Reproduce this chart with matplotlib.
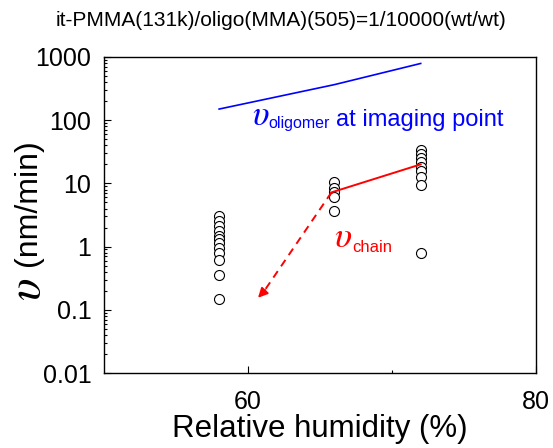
import matplotlib
matplotlib.use("Agg")
import matplotlib.pyplot as plt
from matplotlib.ticker import LogLocator, NullFormatter, FixedLocator

plt.rcParams["font.family"] = ["Liberation Sans", "DejaVu Sans"]

# measured points: relative humidity (%) vs velocity (nm/min)
rh_58 = [58] * 12
v_58 = [3.0, 2.5, 2.1, 1.75, 1.45, 1.3, 1.12, 0.96, 0.8, 0.62, 0.36, 0.15]
rh_66 = [66] * 5
v_66 = [10.7, 8.6, 7.2, 6.0, 3.6]
rh_72 = [72] * 9
v_72 = [34, 29.5, 25.5, 21.5, 18.5, 15.5, 12.4, 9.6, 0.8]

# oligomer velocity at imaging point
olig_rh = [58, 66, 72]
olig_v = [150, 365, 790]

# chain velocity (solid) and extrapolation (dashed arrow)
chain_rh = [65.8, 72]
chain_v = [7.2, 20]
extrap_rh = [65.8, 60.7]
extrap_v = [7.2, 0.155]

xticks = [60, 80]
yticks = [0.01, 0.1, 1, 10, 100, 1000]
ytick_labels = ["0.01", "0.1", "1", "10", "100", "1000"]

fig = plt.figure(figsize=(5.53, 4.48), dpi=100)
ax = fig.add_axes([0.188, 0.1674, 0.781, 0.7054])

marker_kw = dict(linestyle="none", marker="o", markersize=7.2,
                 markerfacecolor="white", markeredgecolor="black",
                 markeredgewidth=0.8)
for xs, ys in [(rh_58, v_58), (rh_66, v_66), (rh_72, v_72)]:
    ax.plot(xs, ys, **marker_kw)

ax.plot(olig_rh, olig_v, color="#0000ff", linewidth=1.2)
ax.plot(chain_rh, chain_v, color="#ff0000", linewidth=1.4)
ax.plot(extrap_rh[:1] + [extrap_rh[1] + 0.4], extrap_v[:1] + [extrap_v[1] * 1.25],
        color="#ff0000", linewidth=1.4, linestyle=(0, (4, 3)))
ax.annotate("", xy=(extrap_rh[1], extrap_v[1]),
            xytext=(extrap_rh[1] + 0.5, extrap_v[1] * 1.32),
            arrowprops=dict(arrowstyle="-|>", color="#ff0000", lw=1.4,
                            mutation_scale=14, shrinkA=0, shrinkB=0))

ax.set_yscale("log")
ax.set_xlim(50, 80)
ax.set_ylim(0.01, 1000)
ax.set_xticks(xticks)
ax.xaxis.set_minor_locator(FixedLocator([70]))
ax.set_yticks(yticks)
ax.set_yticklabels(ytick_labels)
ax.yaxis.set_minor_locator(LogLocator(base=10, subs=range(2, 10), numticks=20))
ax.yaxis.set_minor_formatter(NullFormatter())
ax.tick_params(which="both", direction="in", top=False, right=False,
               labelsize=18, width=0.8)
ax.tick_params(which="major", length=5)
ax.tick_params(axis="y", which="major", pad=9)
ax.tick_params(axis="x", which="major", pad=12)
ax.tick_params(which="minor", length=2.5)
for s in ax.spines.values():
    s.set_linewidth(1.0)

# curve labels
greek = dict(math_fontfamily="stix", va="baseline", ha="left")
ax.text(60.3, 85, r"$\upsilon$", color="#0000ff", fontsize=25, **greek)
ax.text(61.45, 75, "oligomer", color="#0000ff", fontsize=11.5, va="baseline", ha="left")
ax.text(66.1, 82, "at imaging point", color="#0000ff", fontsize=17, va="baseline", ha="left")
ax.text(66.0, 1.0, r"$\upsilon$", color="#ff0000", fontsize=26, **greek)
ax.text(67.25, 0.82, "chain", color="#ff0000", fontsize=12, va="baseline", ha="left")

ax.set_xlabel("Relative humidity (%)", fontsize=22.5, labelpad=0)

# y label built from a large upsilon plus the unit
fig.text(0.05, 0.354, r"$\upsilon$", math_fontfamily="stix",
         fontsize=34, rotation=90, ha="center", va="center")
fig.text(0.051, 0.548, "(nm/min)", fontsize=23, rotation=90, ha="center", va="center")

fig.text(0.509, 0.955, "it-PMMA(131k)/oligo(MMA)(505)=1/10000(wt/wt)",
         fontsize=15, ha="center", va="center")

fig.savefig("out.png", dpi=100)
